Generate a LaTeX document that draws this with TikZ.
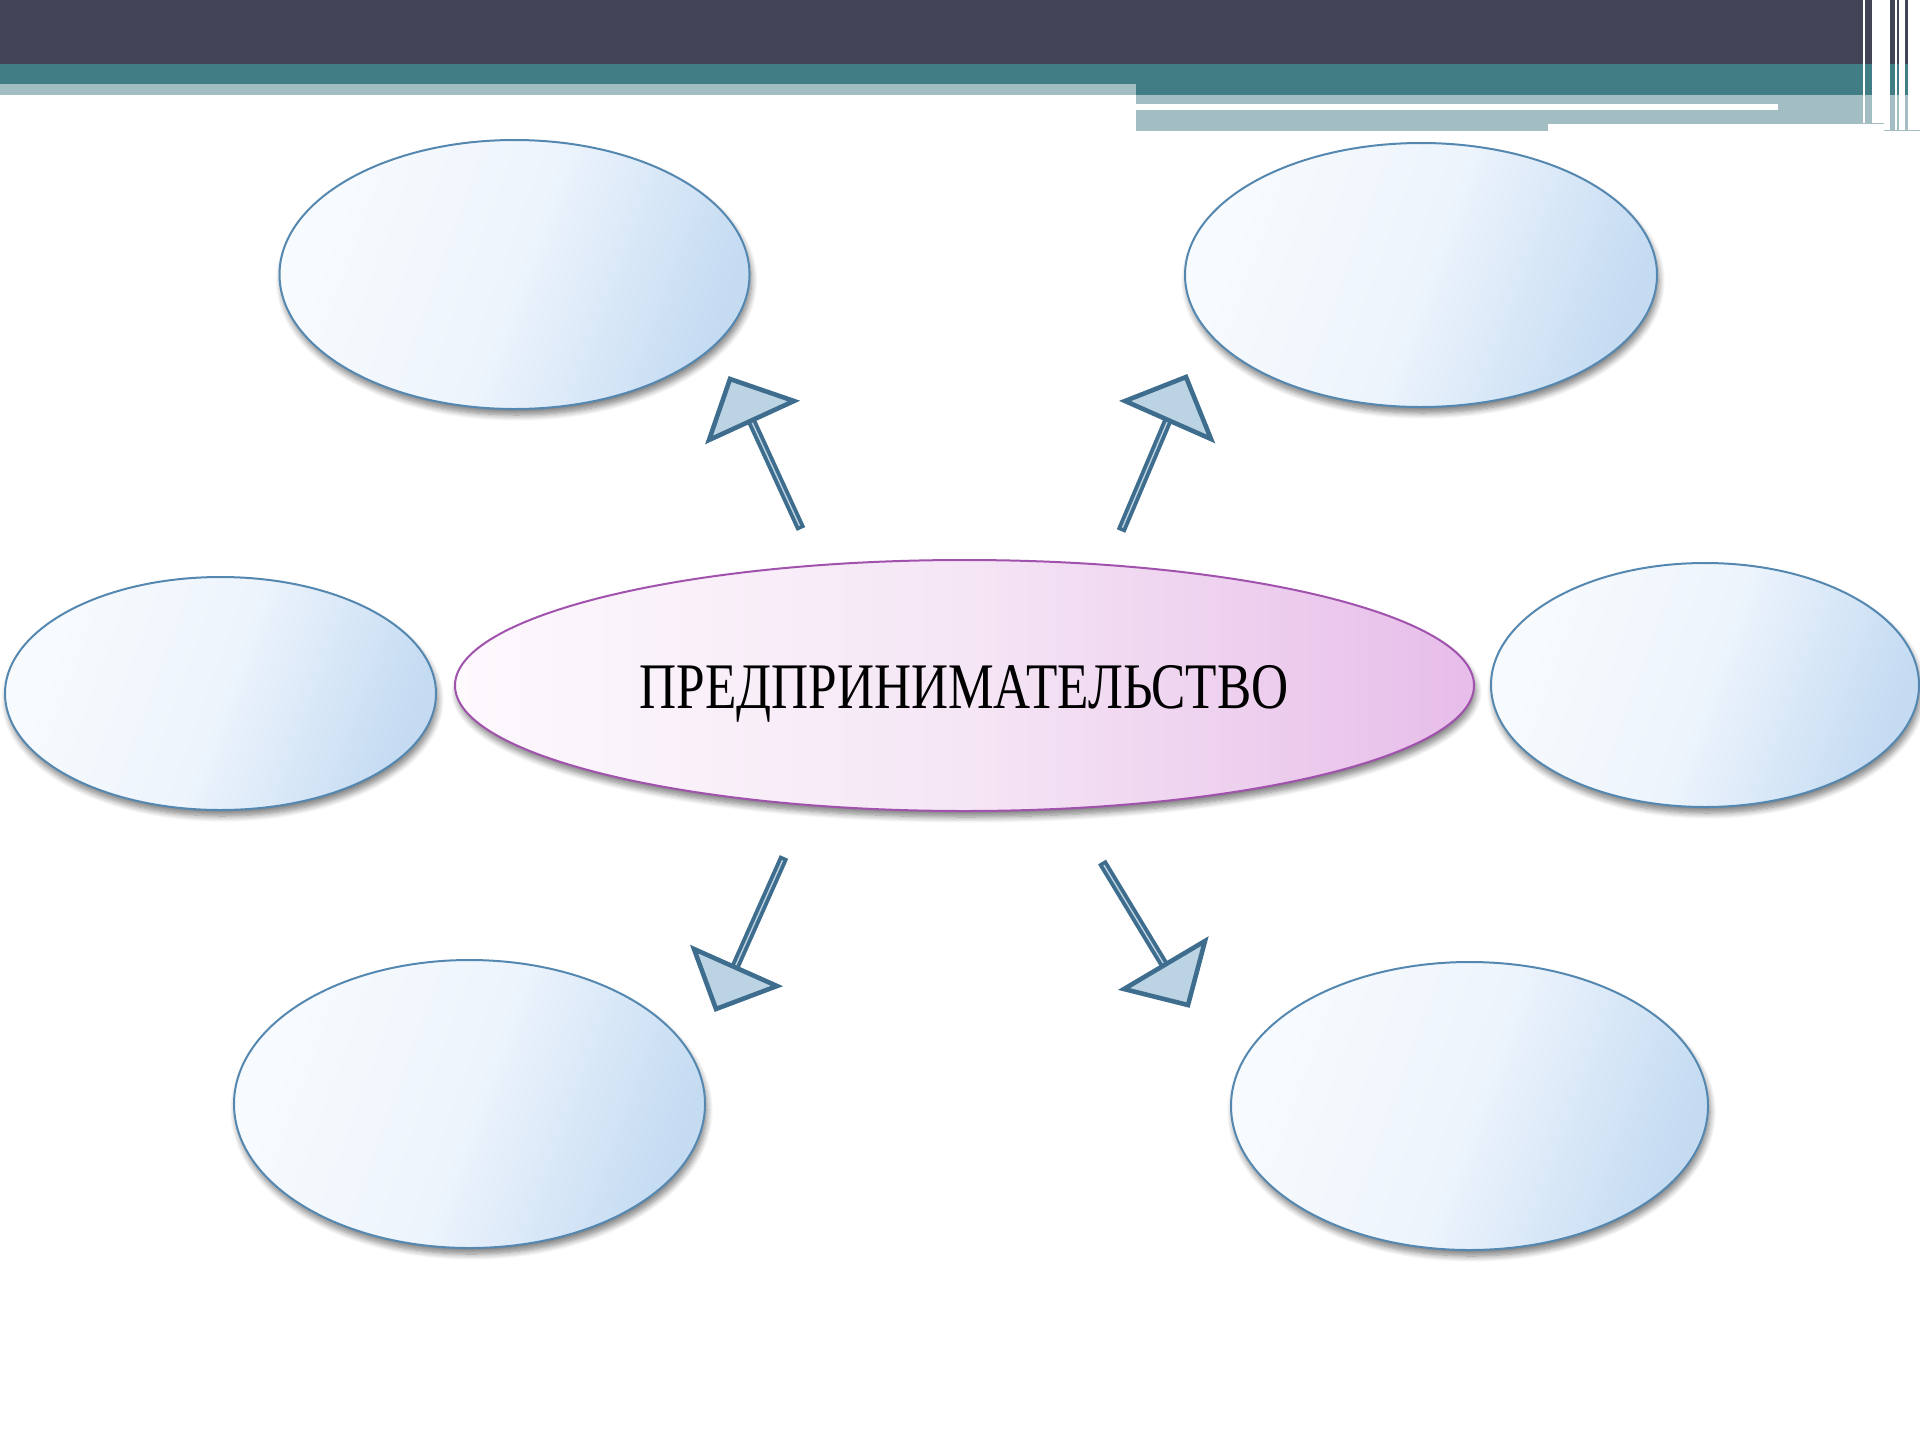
\documentclass[tikz,border=0pt]{standalone}
\usepackage{graphicx}
\usepackage{fontspec}
\setmainfont{Liberation Serif}
\usetikzlibrary{shapes.geometric,shadows.blur,calc}
\definecolor{hdark}{HTML}{414356}
\definecolor{hteal}{HTML}{417D84}
\definecolor{hlight}{HTML}{A2BEC3}
\definecolor{bline}{HTML}{5588B0}
\definecolor{bfillA}{HTML}{F8FBFE}
\definecolor{bfillB}{HTML}{EDF4FC}
\definecolor{bfillC}{HTML}{C4DBF2}
\definecolor{pline}{HTML}{A052AD}
\definecolor{pfillA}{HTML}{FDF9FD}
\definecolor{pfillB}{HTML}{F5E6F5}
\definecolor{pfillC}{HTML}{E7BDE9}
\definecolor{adark}{HTML}{3E6D8E}
\definecolor{afill}{HTML}{BCD3E3}
\begin{document}
\begin{tikzpicture}[x=0.5pt,y=-0.5pt,
  softshadow/.style={blur shadow={shadow xshift=1pt, shadow yshift=-3pt, shadow blur radius=3pt, shadow blur steps=8, shadow opacity=50}},
  bubble/.style={ellipse, draw=bline, line width=1pt, inner sep=0pt,
    left color=bfillA, right color=bfillC, middle color=bfillB, shading angle=70, softshadow},
  hub/.style={ellipse, draw=pline, line width=1pt, inner sep=0pt,
    left color=pfillA, right color=pfillC, middle color=pfillB, softshadow},
  shaftout/.style={adark, line width=4.6pt},
  shaftin/.style={afill, line width=0.7pt, shorten <=1.8pt},
  head/.style={fill=afill, draw=adark, line width=2.3pt, line join=miter}
]
\useasboundingbox (0,0) rectangle (1920,1440);
% header bands
\fill[hdark] (0,0) rectangle (1863,64);
\fill[hteal] (0,64) rectangle (1863,84);
\fill[hlight] (0,84) rectangle (1136,95);
\fill[hteal] (1136,84) rectangle (1863,95);
\fill[hlight] (1136,95) rectangle (1863,123);
\fill[hlight] (1136,123) rectangle (1548,131);
\fill[white] (1136,104) rectangle (1778,110);
\fill[hlight] (1548,122.5) rectangle (1884,124);
% right strip
\fill[hdark] (1865,0) rectangle (1872,64);
\fill[hteal] (1865,64) rectangle (1872,95);
\fill[hlight] (1865,95) rectangle (1872,123);
\foreach \a/\b in {1890/1895,1897/1899,1905/1908}{
  \fill[hdark] (\a,0) rectangle (\b,64);
  \fill[hteal] (\a,64) rectangle (\b,95);
  \fill[hlight] (\a,95) rectangle (\b,130);
}
\fill[hlight] (1884,129.5) rectangle (1920,131);
% ellipses
\node[bubble, minimum width=235pt, minimum height=134.5pt] (tl) at (514.5,274.5) {};
\node[bubble, minimum width=236pt, minimum height=132pt] (tr) at (1421,275) {};
\node[bubble, minimum width=215.5pt, minimum height=116.5pt] (ml) at (220.5,693.5) {};
\node[bubble, minimum width=214pt, minimum height=122pt] (mr) at (1705,685) {};
\node[bubble, minimum width=235.5pt, minimum height=144pt] (bl) at (469.5,1104) {};
\node[bubble, minimum width=238.5pt, minimum height=144pt] (br) at (1469.5,1106) {};
\node[hub, minimum width=509.5pt, minimum height=125.5pt] (hubnode) at (964.5,685.5) {};
% arrow coordinates
\coordinate (s1a) at (801,529);  \coordinate (s1b) at (751,420);
\coordinate (t1a) at (730,379);  \coordinate (t1b) at (794,401); \coordinate (t1c) at (709,440);
\coordinate (s2a) at (1121,531); \coordinate (s2b) at (1168,420);
\coordinate (t2a) at (1186,377); \coordinate (t2b) at (1125,401); \coordinate (t2c) at (1211,439);
\coordinate (s3a) at (784,857);  \coordinate (s3b) at (735,967);
\coordinate (t3a) at (716,1009); \coordinate (t3b) at (694,949); \coordinate (t3c) at (777,986);
\coordinate (s4a) at (1102,862); \coordinate (s4b) at (1165,966);
\coordinate (t4a) at (1205,941); \coordinate (t4b) at (1124,989); \coordinate (t4c) at (1188,1005);
\foreach \i in {1,2,3,4}{
  \draw[shaftout] (s\i a) -- (s\i b);
  \draw[shaftin] (s\i a) -- (s\i b);
  \draw[head] (t\i a) -- (t\i b) -- (t\i c) -- cycle;
}
% title
\node[anchor=base, inner sep=0pt] (title) at (964,708)
  {\resizebox{324.5pt}{\height}{\fontsize{32.5pt}{38pt}\selectfont ПРЕДПРИНИМАТЕЛЬСТВО}};
\end{tikzpicture}
\end{document}
